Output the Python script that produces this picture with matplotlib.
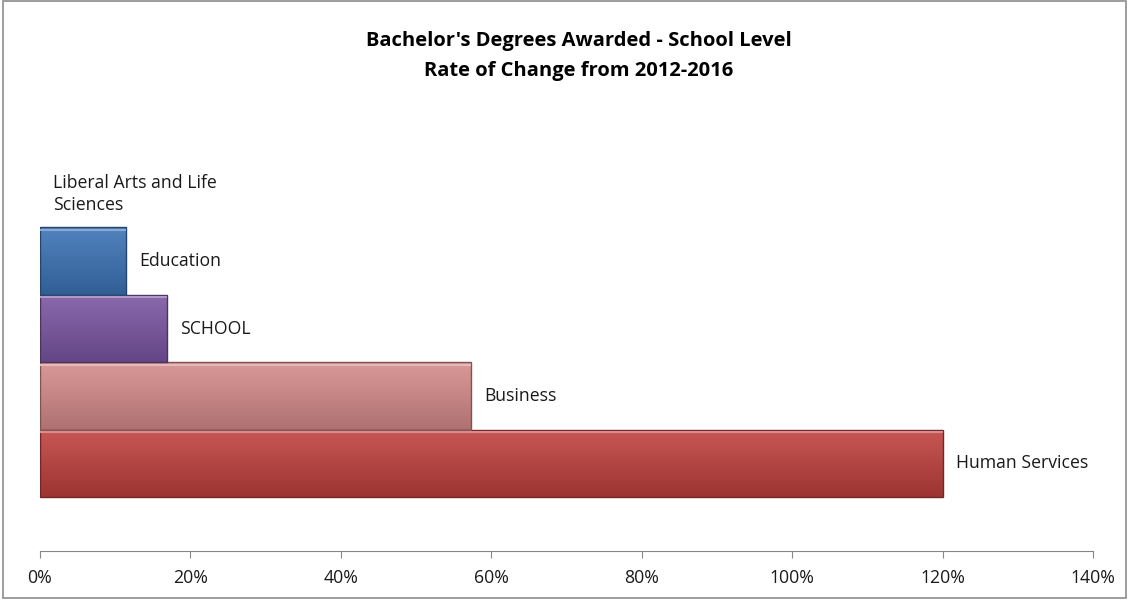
#!/usr/bin/env python3

"""
Bachelor's degrees awarded - school level, rate of change 2012-2016
"""

import numpy as np
import matplotlib
matplotlib.use("Agg")
import matplotlib.pyplot as plt
from matplotlib.colors import to_rgb
from matplotlib.patches import Rectangle

# bottom to top, as drawn
schools = ["Human Services", "Business", "SCHOOL", "Education",
           "Liberal Arts and Life\nSciences"]
change = [1.20, 0.573, 0.169, 0.115, 0.0]
colors = ["#c0403d", "#d58b8a", "#7a55a2", "#3b72b5", "#3b72b5"]
xticks = [0, 0.2, 0.4, 0.6, 0.8, 1.0, 1.2, 1.4]

plt.rcParams['font.family'] = ['Open Sans', 'DejaVu Sans']


def shade(c, f):
    """ lighter (f>0) or darker (f<0) version of a colour """
    c = np.array(to_rgb(c))
    if f > 0:
        return tuple(c + (1 - c) * f)
    return tuple(c * (1 + f))


fig = plt.figure(figsize=(11.3, 6), dpi=100)
ax = fig.add_axes([40 / 1130, 1 - 551 / 600, 1053 / 1130, 445 / 600])

ypos = np.arange(len(schools))
bars = ax.barh(ypos, change, height=1.0, color=colors, zorder=2)

# bevel look: vertical gradient clipped to each bar, dark edge
for bar, col in zip(bars, colors):
    x0, y0 = bar.get_x(), bar.get_y()
    w, h = bar.get_width(), bar.get_height()
    if w <= 0:
        bar.set_visible(False)
        continue
    grad = np.linspace(0, 1, 64).reshape(-1, 1)
    top, bot = np.array(shade(col, 0.12)), np.array(shade(col, -0.18))
    img = bot + (top - bot) * grad[..., None]   # row 0 = bottom
    im = ax.imshow(img, extent=[x0, x0 + w, y0, y0 + h], origin="lower",
                   aspect="auto", zorder=3, interpolation="bilinear")
    im.set_clip_path(bar)
    bar.set_edgecolor(shade(col, -0.4))
    bar.set_linewidth(1.0)
    bar.set_zorder(4)
    bar.set_facecolor("none")
    # light rim along the top
    ax.plot([x0, x0 + w], [y0 + h - 0.04, y0 + h - 0.04],
            color=shade(col, 0.4), lw=1.5, zorder=5, solid_capstyle="butt")

for y, v, name in zip(ypos, change, schools):
    ax.annotate(name, (v, y), xytext=(9.5, 0), textcoords="offset points",
                va="center", ha="left", fontsize=12.7, color="#1a1a1a",
                linespacing=1.3)

ax.set_xlim(0, 1.4)
ax.set_ylim(-1.3, 5.3)
ax.set_xticks(xticks)
ax.set_xticklabels([f"{int(round(t * 100))}%" for t in xticks])
ax.set_yticks([])
for s in ["left", "right", "top"]:
    ax.spines[s].set_visible(False)
ax.spines["bottom"].set_color("#868686")
ax.tick_params(axis="x", direction="out", length=5, color="#868686",
               labelsize=12.7, labelcolor="#1a1a1a", pad=8)

fig.text(0.512, 0.932, "Bachelor's Degrees Awarded - School Level",
         ha="center", va="center", fontsize=14.5, fontweight="bold")
fig.text(0.512, 0.882, "Rate of Change from 2012-2016",
         ha="center", va="center", fontsize=14.5, fontweight="bold")

fig.patches.append(Rectangle((0.0027, 0.003), 0.994, 0.995, transform=fig.transFigure,
                             fill=False, edgecolor="#8c8c8c", lw=1.2))

fig.savefig("out.png", dpi=100)
